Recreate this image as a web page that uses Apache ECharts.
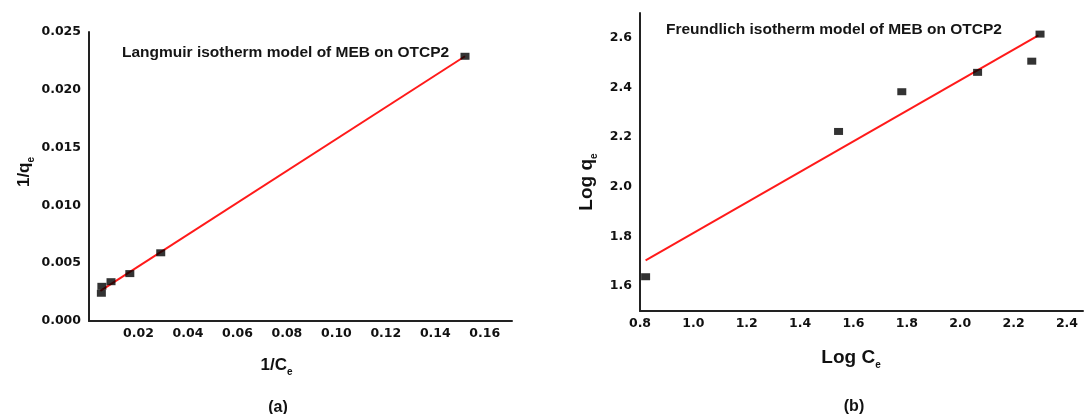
<!DOCTYPE html>
<html>
<head>
<meta charset="utf-8">
<script src="https://cdn.jsdelivr.net/npm/echarts@6/dist/echarts.min.js"></script>
<style>
  html, body { margin: 0; padding: 0; background: #fff; }
  #main { width: 1089px; height: 414px; }
</style>
</head>
<body>
<div id="main"></div>
<script>
// (a) Langmuir: 1/Ce vs 1/qe
const langX = [0.005, 0.0052, 0.0089, 0.0165, 0.029, 0.152];
const langY = [0.0024, 0.0030, 0.0034, 0.0041, 0.0059, 0.0229];
const langFitX = [0.0046, 0.152];
const langFitY = [0.0026, 0.0229];

// (b) Freundlich: Log Ce vs Log qe
const freuX = [0.821, 1.544, 1.781, 2.065, 2.268, 2.299];
const freuY = [1.638, 2.223, 2.383, 2.461, 2.506, 2.615];
const freuFitX = [0.821, 2.293];
const freuFitY = [1.704, 2.61];

const pairs = (xs, ys) => xs.map((x, i) => [x, ys[i]]);

const tickFont = { fontFamily: 'DejaVu Sans', fontWeight: 'bold', fontSize: 12.5, color: '#111' };
const nameFont = { fontFamily: 'Liberation Sans', fontWeight: 'bold', fontSize: 17, color: '#111' };
const sub = { fontFamily: 'Liberation Sans', fontWeight: 'bold', fontSize: 10, color: '#111', verticalAlign: 'bottom', padding: [0, 0, -3, 0] };
const axisLine = { show: true, onZero: false, lineStyle: { color: '#222', width: 2 } };
const plotTitle = { fontFamily: 'Liberation Sans', fontWeight: 'bold', fontSize: 15.5, color: '#151515' };

const chart = echarts.init(document.getElementById('main'));
const option = {
  animation: false,
  backgroundColor: '#fff',
  title: [
    { text: 'Langmuir isotherm model of MEB on OTCP2', left: 117, top: 40, textStyle: plotTitle },
    { text: 'Freundlich isotherm model of MEB on OTCP2', left: 661, top: 17, textStyle: plotTitle },
    { text: '(a)', left: 273, top: 395, textAlign: 'center',
      textStyle: { fontFamily: 'Liberation Sans', fontWeight: 'bold', fontSize: 16, color: '#111' } },
    { text: '(b)', left: 849, top: 394, textAlign: 'center',
      textStyle: { fontFamily: 'Liberation Sans', fontWeight: 'bold', fontSize: 16, color: '#111' } }
  ],
  grid: [
    { left: 89, top: 32, width: 423, height: 289 },
    { left: 640, top: 13, width: 443, height: 298 }
  ],
  xAxis: [
    {
      gridIndex: 0, type: 'value', min: 0, max: 0.171, interval: 0.02,
      name: '1/C{s|e}', nameLocation: 'middle', nameGap: 36,
      nameTextStyle: Object.assign({}, nameFont, { padding: [0, 48, 0, 0], rich: { s: sub } }),
      axisLine: axisLine, axisTick: { show: false }, splitLine: { show: false },
      axisLabel: Object.assign({}, tickFont, { margin: 6, showMinLabel: false, showMaxLabel: false,
        formatter: v => v.toFixed(2) })
    },
    {
      gridIndex: 1, type: 'value', min: 0.8, max: 2.46, interval: 0.2,
      name: 'Log C{s|e}', nameLocation: 'middle', nameGap: 37,
      nameTextStyle: Object.assign({}, nameFont, { fontSize: 19, padding: [0, 21, 0, 0], rich: { s: sub } }),
      axisLine: axisLine, axisTick: { show: false }, splitLine: { show: false },
      axisLabel: Object.assign({}, tickFont, { margin: 6, showMaxLabel: false,
        formatter: v => v.toFixed(1) })
    }
  ],
  yAxis: [
    {
      gridIndex: 0, type: 'value', min: 0, max: 0.025, interval: 0.005,
      name: '1/q{s|e}', nameLocation: 'middle', nameGap: 56,
      nameTextStyle: Object.assign({}, nameFont, { padding: [0, 0, 0, 9], rich: { s: sub } }),
      axisLine: axisLine, axisTick: { show: false }, splitLine: { show: false },
      axisLabel: Object.assign({}, tickFont, { margin: 8, formatter: v => v.toFixed(3) })
    },
    {
      gridIndex: 1, type: 'value', min: 1.5, max: 2.7, interval: 0.1,
      name: 'Log q{s|e}', nameLocation: 'middle', nameGap: 44,
      nameTextStyle: Object.assign({}, nameFont, { fontSize: 19, padding: [0, 40, 0, 0], rich: { s: sub } }),
      axisLine: axisLine, axisTick: { show: false }, splitLine: { show: false },
      axisLabel: Object.assign({}, tickFont, { margin: 8,
        formatter: v => (Math.round(v * 10) % 2 === 0 ? v.toFixed(1) : '') })
    }
  ],
  series: [
    {
      type: 'line', xAxisIndex: 0, yAxisIndex: 0, data: pairs(langFitX, langFitY),
      showSymbol: false, lineStyle: { color: '#ff1a1a', width: 2 }, z: 2
    },
    {
      type: 'scatter', xAxisIndex: 0, yAxisIndex: 0, data: pairs(langX, langY),
      symbol: 'rect', symbolSize: [9, 7], itemStyle: { color: '#000' }, z: 3
    },
    {
      type: 'line', xAxisIndex: 1, yAxisIndex: 1, data: pairs(freuFitX, freuFitY),
      showSymbol: false, lineStyle: { color: '#ff1a1a', width: 2 }, z: 2
    },
    {
      type: 'scatter', xAxisIndex: 1, yAxisIndex: 1, data: pairs(freuX, freuY),
      symbol: 'rect', symbolSize: [9, 7], itemStyle: { color: '#000' }, z: 3
    }
  ]
};
chart.setOption(option);
</script>
</body>
</html>
